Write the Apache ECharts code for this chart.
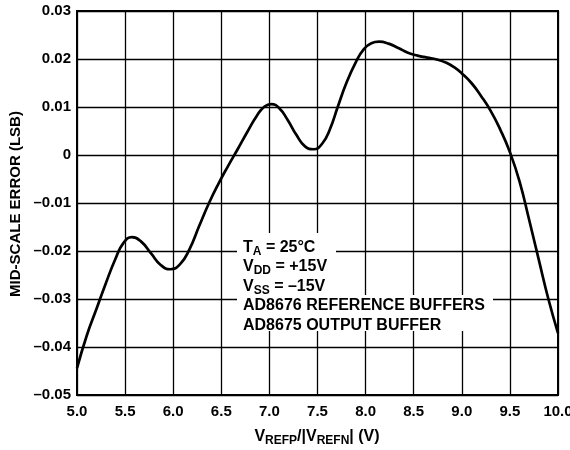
<!DOCTYPE html>
<html>
<head>
<meta charset="utf-8">
<script src="https://cdn.jsdelivr.net/npm/echarts@6/dist/echarts.min.js"></script>
<style>html,body{margin:0;padding:0;background:#fff}#c{width:570px;height:450px}</style>
</head>
<body>
<div id="c"></div>
<script>
// Data
const xValues = [5.0, 5.1, 5.2, 5.3, 5.4, 5.48, 5.57, 5.67, 5.77, 5.87, 5.97, 6.07, 6.17, 6.27, 6.37, 6.47, 6.57, 6.67, 6.77, 6.87, 6.95, 7.02, 7.1, 7.19, 7.28, 7.37, 7.46, 7.55, 7.63, 7.71, 7.8, 7.9, 7.98, 8.06, 8.14, 8.24, 8.34, 8.44, 8.54, 8.64, 8.74, 8.84, 8.92, 9.0, 9.1, 9.2, 9.3, 9.4, 9.5, 9.6, 9.7, 9.8, 9.9, 10.0];
const yValues = [-0.0444, -0.0377, -0.0322, -0.0267, -0.0216, -0.0184, -0.0171, -0.0181, -0.0205, -0.0229, -0.0238, -0.0228, -0.0196, -0.0148, -0.0101, -0.0060, -0.0023, 0.0012, 0.0048, 0.0082, 0.0101, 0.0106, 0.0098, 0.0073, 0.0042, 0.0018, 0.0012, 0.0024, 0.0054, 0.0100, 0.0150, 0.0194, 0.0220, 0.0233, 0.0236, 0.0232, 0.0223, 0.0213, 0.0207, 0.0203, 0.0199, 0.0192, 0.0183, 0.0170, 0.0150, 0.0123, 0.0092, 0.0053, 0.0006, -0.0055, -0.0135, -0.0218, -0.0300, -0.0371];
const xTickLabels = ['5.0', '5.5', '6.0', '6.5', '7.0', '7.5', '8.0', '8.5', '9.0', '9.5', '10.0'];
const yTickLabels = ['\u20130.05', '\u20130.04', '\u20130.03', '\u20130.02', '\u20130.01', '0', '0.01', '0.02', '0.03'];
const noteLines = [
  '{m|T}{s|A}{m| = 25\u00B0C}',
  '{m|V}{s|DD}{m| = +15V}',
  '{m|V}{s|SS}{m| = \u201315V}',
  '{m|AD8676 REFERENCE BUFFERS}',
  '{m|AD8675 OUTPUT BUFFER}'
];
const xAxisTitle = '{m|V}{s|REFP}{m|/|V}{s|REFN}{m|| (V)}';
const yAxisTitle = 'MID-SCALE ERROR (LSB)';

const FONT = '"Liberation Sans", Arial, Helvetica, sans-serif';
const richStyles = {
  m: {fontSize: 16, fontWeight: 'bold', fontFamily: FONT, color: '#000', lineHeight: 20, verticalAlign: 'middle'},
  s: {fontSize: 12, fontWeight: 'bold', fontFamily: FONT, color: '#000', lineHeight: 13, verticalAlign: 'bottom'}
};

const chart = echarts.init(document.getElementById('c'), null, {renderer: 'canvas'});
const seriesData = xValues.map((x, i) => [x, yValues[i]]);

const noteYs = [248, 267, 286.5, 305.5, 325.5];
const graphics = [
  {type: 'rect', z: 50, shape: {x: 237, y: 233, width: 99, height: 63}, style: {fill: '#fff'}},
  {type: 'rect', z: 50, shape: {x: 237, y: 295, width: 256, height: 36}, style: {fill: '#fff'}}
];
noteLines.forEach((t, i) => {
  graphics.push({type: 'text', z: 60, x: 243, y: noteYs[i], style: {text: t, rich: richStyles, align: 'left', verticalAlign: 'middle'}});
});
graphics.push({type: 'text', z: 60, x: 317, y: 437, style: {text: xAxisTitle, rich: richStyles, align: 'center', verticalAlign: 'middle'}});
graphics.push({type: 'text', z: 60, x: 15.5, y: 204, rotation: Math.PI / 2, style: {text: yAxisTitle, fontSize: 15, fontWeight: 'bold', fontFamily: FONT, fill: '#000', align: 'center', verticalAlign: 'middle'}});

chart.setOption({
  animation: false,
  backgroundColor: '#fff',
  grid: {left: 77, right: 12, top: 11, bottom: 55, show: true, borderColor: '#000', borderWidth: 2, backgroundColor: 'transparent', outerBoundsMode: 'none'},
  xAxis: {
    type: 'value', min: 5, max: 10, interval: 0.5,
    axisLine: {show: false}, axisTick: {show: false},
    splitLine: {show: true, lineStyle: {color: '#000', width: 1.3}},
    axisLabel: {margin: 9, fontSize: 15, fontWeight: 'bold', fontFamily: FONT, color: '#000',
      formatter: (v, i) => xTickLabels[i]}
  },
  yAxis: {
    type: 'value', min: -0.05, max: 0.03, interval: 0.01,
    axisLine: {show: false}, axisTick: {show: false},
    splitLine: {show: true, lineStyle: {color: '#000', width: 1.3}},
    axisLabel: {margin: 6, fontSize: 15, fontWeight: 'bold', fontFamily: FONT, color: '#000',
      formatter: (v, i) => yTickLabels[i]}
  },
  series: [{
    type: 'line', data: seriesData, smooth: 0.5, symbol: 'none', clip: true,
    lineStyle: {color: '#000', width: 2.7}
  }],
  graphic: graphics
});
</script>
</body>
</html>
